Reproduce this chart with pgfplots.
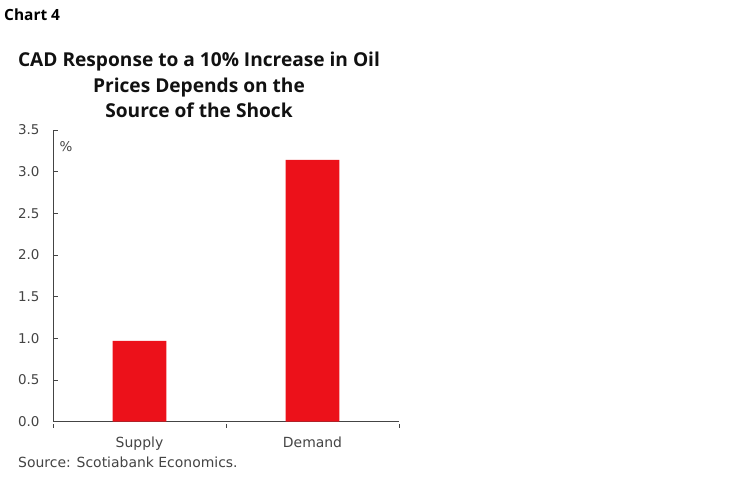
\documentclass[border=0pt]{standalone}
\usepackage{fontspec}
\setmainfont{DejaVu Sans}
\newfontfamily\titlefont{Open Sans}
\usepackage{pgfplots}
\pgfplotsset{compat=1.18}
\definecolor{sred}{HTML}{EC111A}
\definecolor{txt}{HTML}{111111}
\definecolor{tick}{HTML}{444444}
\begin{document}
\begin{tikzpicture}[x=1bp,y=1bp]
\path[fill=white] (0,0) rectangle (748,483);
\node[anchor=base west,font=\titlefont\bfseries\fontsize{15.5}{15.5}\selectfont,text=black,inner sep=0] at (4,462.3) {Chart 4};
\node[anchor=base,font=\titlefont\bfseries\fontsize{19.2}{19.2}\selectfont,text=txt,inner sep=0] at (199,416.3) {CAD Response to a 10\% Increase in Oil};
\node[anchor=base,font=\titlefont\bfseries\fontsize{19.2}{19.2}\selectfont,text=txt,inner sep=0] at (199,390.3) {Prices Depends on the};
\node[anchor=base,font=\titlefont\bfseries\fontsize{19.2}{19.2}\selectfont,text=txt,inner sep=0] at (199,365) {Source of the Shock};
\node[anchor=base west,font=\fontsize{14}{14}\selectfont,text=tick,inner sep=0] at (18,15) {Source: Scotiabank Economics.};
\begin{axis}[
  at={(53bp,61.3bp)}, anchor=south west,
  scale only axis, width=346bp, height=291.7bp,
  xmin=-0.5, xmax=1.5, ymin=0, ymax=3.5,
  axis x line=bottom, axis y line=left,
  axis line style={-, draw=tick, line width=0.8bp},
  tick align=inside, major tick length=5bp, minor tick length=4bp,
  every tick/.style={draw=tick, line width=0.8bp},
  ytick={0,0.5,1,1.5,2,2.5,3,3.5},
  yticklabel style={/pgf/number format/fixed, /pgf/number format/fixed zerofill, /pgf/number format/precision=1, /pgf/number format/assume math mode=true, font=\fontsize{13.5}{13.5}\selectfont, text=tick, xshift=-10bp},
  xtick={0,1}, xticklabels={Supply,Demand},
  xtick style={draw=none},
  minor xtick={-0.5,0.5,1.5},
  minor x tick style={draw=tick, line width=0.8bp, yshift=-2bp},
  xticklabel style={font=\fontsize{14}{14}\selectfont, text=tick, yshift=-7bp},
  ybar, bar width=53.6bp,
  clip=false,
]
\addplot[fill=sred, draw=none] coordinates {(0,0.97) (1,3.14)};
\node[font=\fontsize{13.5}{13.5}\selectfont, text=tick] at (rel axis cs:0.0376,0.942) {\%};
\end{axis}
\end{tikzpicture}
\end{document}
